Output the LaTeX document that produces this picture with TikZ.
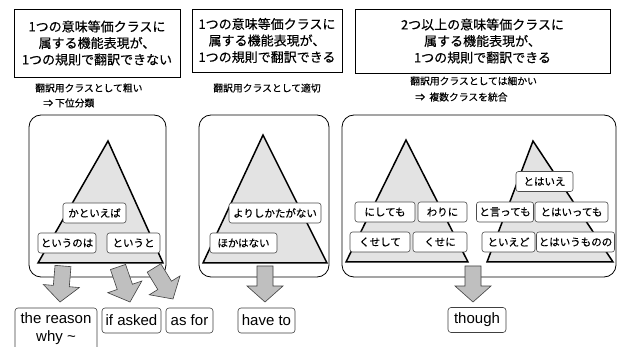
\documentclass[tikz,border=0pt]{standalone}
\usepackage{fontspec}
\setmainfont{Liberation Sans}
\newfontfamily\jp{Noto Sans CJK JP}[FakeBold=0.3]
\usetikzlibrary{calc}
\tikzset{
 topbox/.style={draw=black, line width=0.8pt, align=center, inner sep=0pt, font=\jp\fontsize{13}{16.5}\selectfont},
 captxt/.style={inner sep=0pt, font=\jp\fontsize{9.8}{12}\selectfont},
 panel/.style={draw=black, line width=0.8pt, rounded corners=12pt, inner sep=0pt},
 tri/.style={draw=black, line width=1.5pt, fill=gray!22, line join=miter},
 lbl/.style={draw=black!70, fill=white, rounded corners=2.5pt, line width=0.6pt, minimum height=20pt, inner sep=0pt, font=\jp\fontsize{10.5}{12}\selectfont},
 en/.style={draw=black!75, fill=white, rounded corners=3pt, line width=0.6pt, minimum height=25pt, inner sep=0pt, font=\fontsize{15}{18}\selectfont},
 blk/.style={draw=black!75, fill=gray!50, line width=0.6pt, line join=miter},
}
\newcommand\blkarrow[2]{%
 \coordinate (h) at ($(#2)!16pt!(#1)$);
 \draw[blk] ($(#1)!8pt!90:(#2)$) -- ($(h)!8pt!90:(#2)$) -- ($(h)!18pt!90:(#2)$) -- (#2) -- ($(h)!18pt!-90:(#2)$) -- ($(h)!8pt!-90:(#2)$) -- ($(#1)!8pt!-90:(#2)$) -- cycle;}
\begin{document}
\begin{tikzpicture}[x=1pt,y=-1pt]
\useasboundingbox[fill=white] (0,0) rectangle (618,347);

% top boxes
\node[topbox, minimum width=166pt, minimum height=68pt] (b1) at (97,43) {1つの意味等価クラスに\\属する機能表現が、\\1つの規則で翻訳できない};
\node[topbox, minimum width=150pt, minimum height=63pt] (b2) at (267,40.5) {1つの意味等価クラスに\\属する機能表現が、\\1つの規則で翻訳できる};
\node[topbox, minimum width=255pt, minimum height=64pt] (b3) at (482.5,41) {2つ以上の意味等価クラスに\\属する機能表現が、\\1つの規則で翻訳できる};

% captions
\node[captxt, anchor=west] (c1a) at (35,88) {翻訳用クラスとして粗い};
\node[captxt, anchor=west] (c1b) at (43,103) {⇒ 下位分類};
\node[captxt] (c2) at (267,88) {翻訳用クラスとして適切};
\node[captxt, anchor=west] (c3a) at (410,81) {翻訳用クラスとしては細かい};
\node[captxt, anchor=west] (c3b) at (415,97) {⇒\ \ 複数クラスを統合};

% panels
\node[panel, minimum width=137pt, minimum height=162pt] (p1) at (97.5,196) {};
\node[panel, minimum width=130pt, minimum height=162pt] (p2) at (264,196) {};
\node[panel, minimum width=274pt, minimum height=162pt] (p3) at (479,196) {};

% triangles
\draw[tri] (108,141) -- (163,263) -- (38,263) -- cycle;
\draw[tri] (263,135) -- (327,263) -- (203,263) -- cycle;
\draw[tri] (406,140) -- (468,262) -- (346,262) -- cycle;
\draw[tri] (533,141) -- (613,262) -- (487,262) -- cycle;

% labels
\node[lbl, minimum width=63pt] (l1) at (94.5,213) {かといえば};
\node[lbl, minimum width=58pt] (l2) at (67,243) {というのは};
\node[lbl, minimum width=53pt] (l3) at (133.5,243) {というと};
\node[lbl, minimum width=92pt] (l4) at (275,213) {よりしかたがない};
\node[lbl, minimum width=67pt] (l5) at (243.5,243) {ほかはない};
\node[lbl, minimum width=60pt] (l6) at (385,212) {にしても};
\node[lbl, minimum width=49pt] (l7) at (442.5,212) {わりに};
\node[lbl, minimum width=60pt] (l8) at (380,242) {くせして};
\node[lbl, minimum width=54pt] (l9) at (440,242) {くせに};
\node[lbl, minimum width=57pt] (l10) at (544.5,181.5) {とはいえ};
\node[lbl, minimum width=57pt] (l11) at (505,212) {と言っても};
\node[lbl, minimum width=73pt] (l12) at (571.5,212) {とはいっても};
\node[lbl, minimum width=53pt] (l13) at (508.5,242) {といえど};
\node[lbl, minimum width=78pt] (l14) at (575.5,242) {とはいうものの};

% bottom boxes
\draw[draw=black!75, line width=0.6pt, rounded corners=3pt, fill=white] (15,308) rectangle (97,362);
\node[inner sep=0pt, align=center, font=\fontsize{15}{18}\selectfont] (e1) at (56,329) {the reason\\why \textasciitilde};
\node[en, minimum width=59pt] (e2) at (131.5,320.5) {if asked};
\node[en, minimum width=47pt] (e3) at (189.5,320.5) {as for};
\node[en, minimum width=57pt] (e4) at (266.5,320.5) {have to};
\node[en, minimum width=58pt] (e5) at (477,320) {though};

% arrows
\coordinate (a1) at (63,266); \coordinate (t1) at (60,302);
\coordinate (a2) at (118,267); \coordinate (t2) at (130,302);
\coordinate (a3) at (154,268); \coordinate (t3) at (173,299);
\coordinate (a4) at (265,266); \coordinate (t4) at (265,302);
\coordinate (a5) at (473,266); \coordinate (t5) at (473,302);
\blkarrow{a1}{t1}
\blkarrow{a2}{t2}
\blkarrow{a3}{t3}
\blkarrow{a4}{t4}
\blkarrow{a5}{t5}
\end{tikzpicture}
\end{document}
